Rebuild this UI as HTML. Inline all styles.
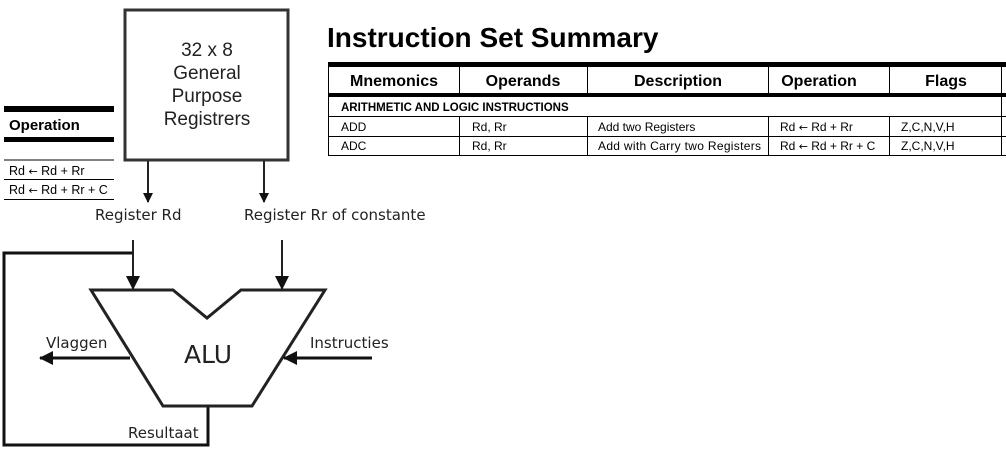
<!DOCTYPE html>
<html><head><meta charset="utf-8"><style>
body{margin:0;background:#fff;width:1006px;height:454px;overflow:hidden}
svg{display:block}
</style></head><body>
<svg width="1006" height="454" xmlns="http://www.w3.org/2000/svg" font-family="Liberation Sans, Arial, sans-serif">
<defs><marker id="a" markerWidth="10" markerHeight="10" refX="9" refY="5" orient="auto" markerUnits="userSpaceOnUse"><path d="M0,0 L10,5 L0,10 z" fill="#111"/></marker>
<marker id="b" markerWidth="14" markerHeight="14" refX="13" refY="7" orient="auto" markerUnits="userSpaceOnUse"><path d="M0,0 L14,7 L0,14 z" fill="#111"/></marker></defs>
<rect x="4" y="106" width="110" height="6" fill="#000"/>
<text x="9" y="130" font-size="15" font-weight="bold">Operation</text>
<rect x="4" y="137" width="110" height="5" fill="#000"/>
<line x1="4" y1="160" x2="114" y2="160" stroke="#000"/>
<line x1="4" y1="179.5" x2="114" y2="179.5" stroke="#000"/>
<line x1="4" y1="199.5" x2="114" y2="199.5" stroke="#000"/>
<text x="9" y="175" font-size="12.5">Rd <tspan font-family="DejaVu Sans, sans-serif" font-size="11">←</tspan> Rd + Rr</text>
<text x="9" y="194" font-size="12.5">Rd <tspan font-family="DejaVu Sans, sans-serif" font-size="11">←</tspan> Rd + Rr + C</text>
<rect x="125" y="10" width="163" height="150" fill="#fff" stroke="#333" stroke-width="3"/>
<g font-size="19" text-anchor="middle" fill="#222">
<text x="207" y="56">32 x 8</text><text x="207" y="79">General</text><text x="207" y="102">Purpose</text><text x="207" y="125">Registrers</text></g>
<line x1="148" y1="161" x2="148" y2="202" stroke="#222" stroke-width="2" marker-end="url(#a)"/>
<line x1="264" y1="161" x2="264" y2="202" stroke="#222" stroke-width="2" marker-end="url(#a)"/>
<g font-family="DejaVu Sans, sans-serif" font-size="15" fill="#222">
<text x="95" y="220">Register Rd</text>
<text x="244" y="220">Register Rr of constante</text>
<text x="46" y="348">Vlaggen</text>
<text x="310" y="348">Instructies</text>
<text x="128" y="438">Resultaat</text>
</g>
<polyline points="133,253 4,253 4,445 208,445 208,406" fill="none" stroke="#111" stroke-width="3"/>
<line x1="133" y1="240" x2="133" y2="289" stroke="#222" stroke-width="2" marker-end="url(#b)"/>
<line x1="282" y1="240" x2="282" y2="289" stroke="#222" stroke-width="2" marker-end="url(#b)"/>
<polygon points="91,290 173,290 207,318 241,290 325,290 252,406 163,406" fill="#fff" stroke="#222" stroke-width="3"/>
<text x="208" y="363" font-size="25" text-anchor="middle" fill="#222" font-family="DejaVu Sans, sans-serif">ALU</text>
<line x1="130" y1="358" x2="40" y2="358" stroke="#111" stroke-width="3" marker-end="url(#b)"/>
<line x1="372" y1="358" x2="284" y2="358" stroke="#111" stroke-width="3" marker-end="url(#b)"/>
<text x="327" y="47" font-size="28" font-weight="bold">Instruction Set Summary</text>
<rect x="328" y="62" width="678" height="5" fill="#000"/>
<rect x="328" y="93" width="678" height="4" fill="#000"/>
<line x1="328.5" y1="62" x2="328.5" y2="156" stroke="#000"/>
<g stroke="#000">
<line x1="459.5" y1="67" x2="459.5" y2="93"/><line x1="587.5" y1="67" x2="587.5" y2="93"/>
<line x1="768.5" y1="67" x2="768.5" y2="93"/><line x1="889.5" y1="67" x2="889.5" y2="93"/><line x1="1001.5" y1="67" x2="1001.5" y2="93"/>
<line x1="459.5" y1="116" x2="459.5" y2="156"/><line x1="587.5" y1="116" x2="587.5" y2="156"/>
<line x1="768.5" y1="116" x2="768.5" y2="156"/><line x1="889.5" y1="116" x2="889.5" y2="156"/><line x1="1001.5" y1="97" x2="1001.5" y2="156"/>
<line x1="328" y1="116.5" x2="1006" y2="116.5"/><line x1="328" y1="136.5" x2="1006" y2="136.5"/><line x1="328" y1="155.5" x2="1006" y2="155.5"/>
</g>
<g font-size="16" font-weight="bold" text-anchor="middle">
<text x="394" y="86">Mnemonics</text><text x="523" y="86">Operands</text><text x="678" y="86">Description</text><text x="819" y="86">Operation</text><text x="946" y="86">Flags</text></g>
<text x="341" y="111" font-size="11.5" font-weight="bold">ARITHMETIC AND LOGIC INSTRUCTIONS</text>
<g font-size="12">
<text x="341" y="131">ADD</text><text x="472" y="131">Rd, Rr</text><text x="598" y="131">Add two Registers</text><text x="780" y="131">Rd <tspan font-family="DejaVu Sans, sans-serif" font-size="11">←</tspan> Rd + Rr</text><text x="901" y="131">Z,C,N,V,H</text>
<text x="341" y="150">ADC</text><text x="472" y="150">Rd, Rr</text><text x="598" y="150" textLength="163">Add with Carry two Registers</text><text x="780" y="150">Rd <tspan font-family="DejaVu Sans, sans-serif" font-size="11">←</tspan> Rd + Rr + C</text><text x="901" y="150">Z,C,N,V,H</text>
</g>
</svg>
</body></html>
